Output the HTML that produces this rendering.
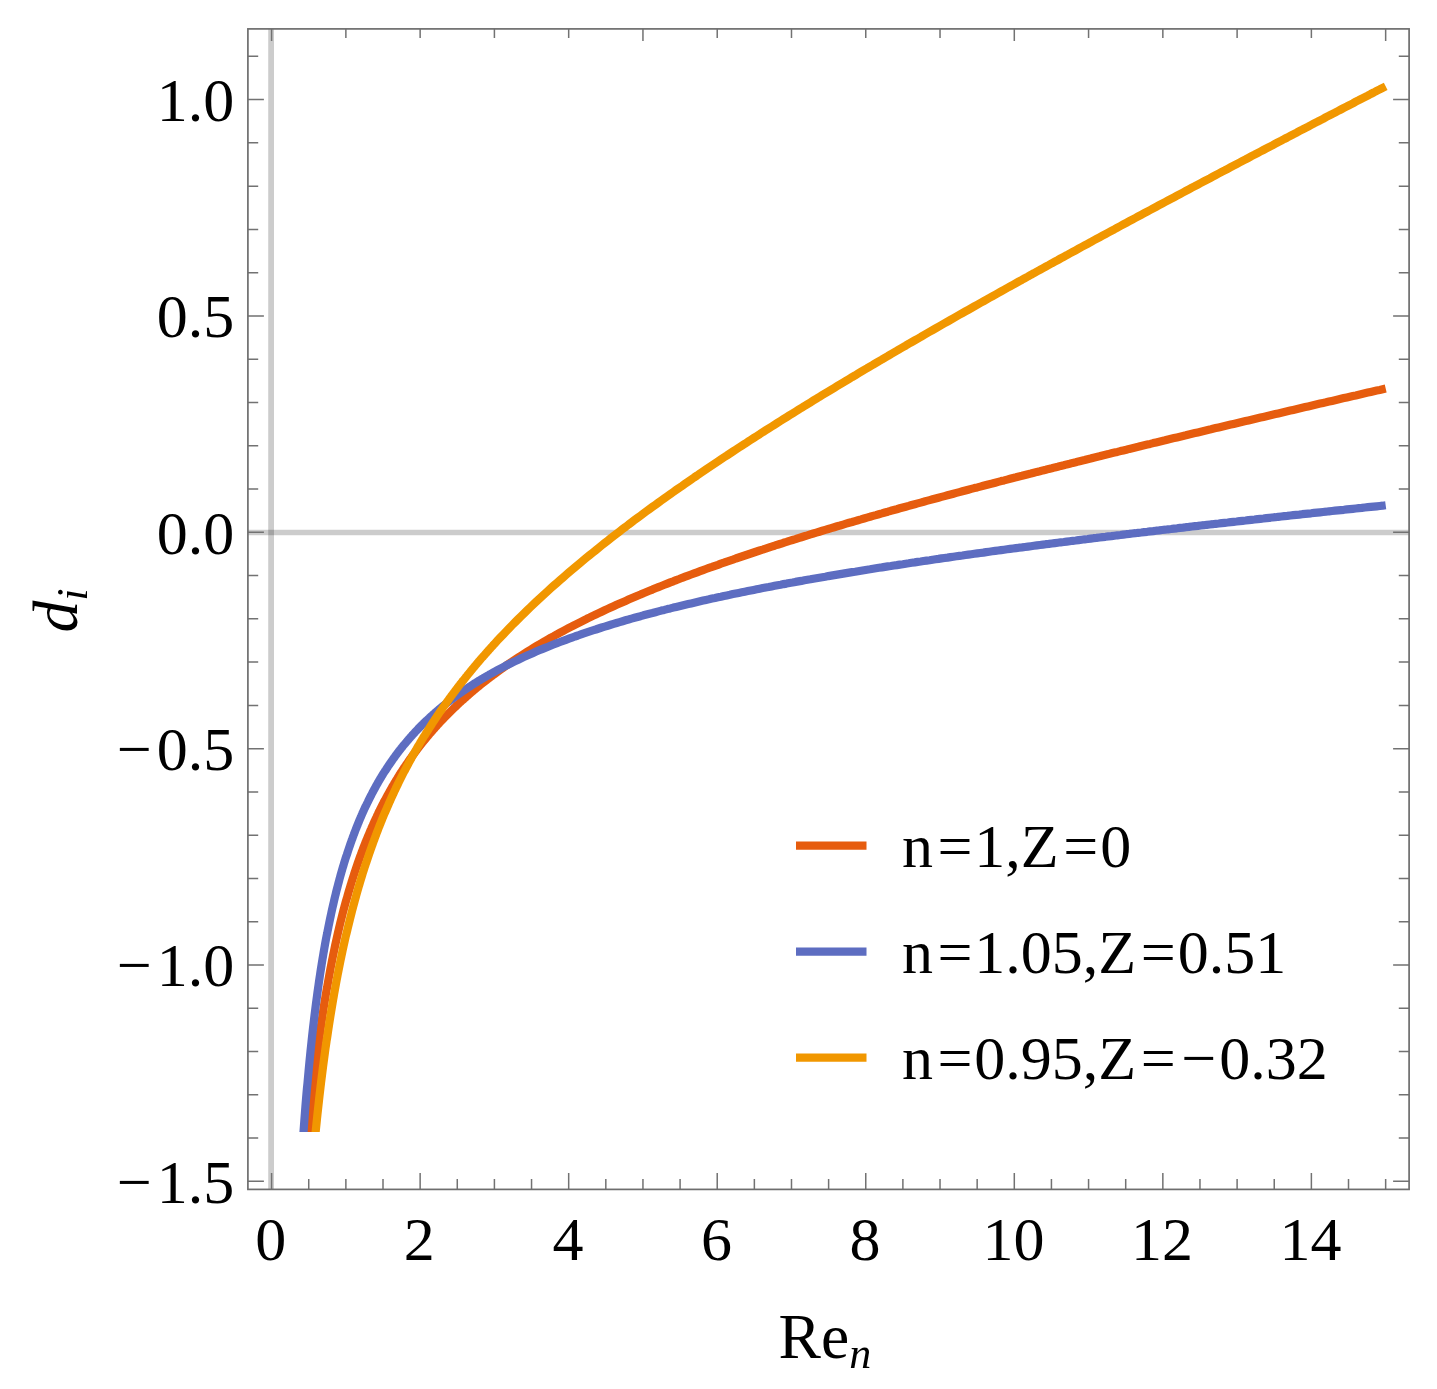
<!DOCTYPE html>
<html><head><meta charset="utf-8"><title>plot</title>
<style>html,body{margin:0;padding:0;background:#fff}svg{display:block}text{font-family:"Liberation Serif",serif;fill:#000}</style></head><body>
<svg width="1437" height="1389" viewBox="0 0 1437 1389">
<rect width="1437" height="1389" fill="#fff"/>
<line x1="271.1" y1="28.9" x2="271.1" y2="1189.4" stroke="#000" stroke-opacity="0.2" stroke-width="5.8"/>
<line x1="247.9" y1="532.4" x2="1409.1" y2="532.4" stroke="#000" stroke-opacity="0.2" stroke-width="5.5"/>
<clipPath id="c"><rect x="247.9" y="28.9" width="1161.2" height="1103.1"/></clipPath><g clip-path="url(#c)">
<path d="M306.6,1159.7 L306.9,1155.6 L307.5,1149.5 L308.0,1143.5 L308.5,1137.7 L309.0,1132.0 L309.5,1126.5 L310.0,1121.1 L310.5,1115.7 L311.0,1110.6 L311.5,1105.5 L312.0,1100.5 L312.5,1095.6 L313.0,1090.9 L313.5,1086.2 L314.0,1081.6 L314.5,1077.1 L315.0,1072.7 L315.5,1068.4 L316.0,1064.1 L316.5,1060.0 L317.0,1055.9 L317.5,1051.9 L318.0,1048.0 L318.5,1044.1 L319.0,1040.3 L319.5,1036.6 L320.0,1032.9 L320.5,1029.3 L321.0,1025.8 L321.5,1022.3 L322.0,1018.9 L322.5,1015.5 L323.0,1012.2 L323.5,1008.9 L324.0,1005.7 L324.5,1002.5 L325.0,999.4 L325.5,996.3 L326.0,993.3 L326.5,990.3 L327.1,987.4 L327.6,984.5 L328.1,981.7 L328.6,978.9 L329.1,976.1 L329.6,973.4 L330.1,970.7 L330.6,968.1 L331.1,965.4 L331.6,962.9 L332.1,960.3 L332.6,957.8 L333.1,955.3 L333.6,952.9 L334.1,950.5 L334.6,948.1 L335.1,945.7 L335.6,943.4 L336.1,941.1 L336.6,938.9 L337.1,936.6 L337.6,934.4 L338.1,932.2 L338.6,930.1 L339.1,928.0 L339.6,925.8 L340.1,923.8 L340.6,921.7 L341.1,919.7 L341.6,917.7 L342.1,915.7 L342.6,913.7 L343.1,911.8 L343.6,909.9 L344.1,908.0 L344.6,906.1 L345.1,904.2 L345.6,902.4 L346.1,900.6 L346.7,898.8 L347.2,897.0 L347.7,895.2 L348.2,893.5 L348.7,891.7 L349.2,890.0 L349.7,888.3 L350.2,886.7 L350.7,885.0 L351.2,883.4 L351.7,881.7 L352.2,880.1 L352.7,878.5 L353.2,877.0 L353.7,875.4 L354.2,873.9 L354.7,872.3 L355.2,870.8 L355.7,869.3 L356.2,867.8 L356.7,866.3 L357.2,864.9 L357.7,863.4 L358.2,862.0 L358.7,860.5 L359.2,859.1 L359.7,857.7 L360.2,856.3 L360.7,855.0 L361.2,853.6 L361.7,852.3 L362.2,850.9 L362.7,849.6 L363.2,848.3 L363.7,847.0 L364.2,845.7 L364.7,844.4 L365.2,843.1 L365.7,841.8 L366.3,840.6 L366.8,839.3 L367.3,838.1 L367.8,836.9 L368.3,835.7 L368.8,834.5 L369.3,833.3 L369.8,832.1 L370.3,830.9 L370.8,829.7 L371.3,828.6 L371.8,827.4 L372.3,826.3 L372.8,825.2 L373.3,824.0 L373.8,822.9 L374.3,821.8 L374.8,820.7 L375.3,819.6 L375.8,818.5 L376.3,817.5 L376.8,816.4 L377.3,815.3 L377.8,814.3 L378.3,813.2 L378.8,812.2 L379.3,811.2 L379.8,810.1 L380.3,809.1 L380.8,808.1 L381.3,807.1 L381.8,806.1 L382.3,805.1 L382.8,804.1 L383.3,803.2 L383.8,802.2 L384.3,801.2 L384.8,800.3 L385.4,799.3 L385.9,798.4 L386.4,797.5 L386.9,796.5 L387.4,795.6 L387.9,794.7 L388.4,793.8 L388.9,792.9 L389.4,792.0 L389.9,791.1 L390.4,790.2 L390.9,789.3 L391.4,788.4 L391.9,787.5 L392.4,786.7 L392.9,785.8 L393.4,784.9 L393.9,784.1 L394.4,783.2 L394.9,782.4 L395.4,781.6 L395.9,780.7 L396.4,779.9 L396.9,779.1 L397.4,778.3 L397.9,777.4 L398.4,776.6 L398.9,775.8 L399.4,775.0 L399.9,774.2 L400.4,773.4 L400.9,772.7 L401.4,771.9 L401.9,771.1 L402.4,770.3 L402.9,769.6 L403.4,768.8 L403.9,768.0 L404.4,767.3 L405.0,766.5 L405.5,765.8 L406.0,765.0 L406.5,764.3 L407.0,763.6 L407.5,762.8 L408.0,762.1 L408.5,761.4 L409.0,760.7 L409.5,759.9 L410.0,759.2 L410.5,758.5 L411.0,757.8 L411.5,757.1 L412.0,756.4 L412.5,755.7 L413.0,755.0 L413.5,754.3 L414.0,753.7 L414.5,753.0 L415.0,752.3 L415.5,751.6 L416.0,751.0 L416.5,750.3 L417.0,749.6 L417.5,749.0 L418.0,748.3 L418.5,747.7 L419.0,747.0 L419.5,746.4 L420.0,745.7 L420.5,745.1 L421.0,744.4 L421.5,743.8 L422.0,743.2 L422.5,742.5 L423.0,741.9 L423.5,741.3 L424.0,740.7 L424.6,740.0 L425.1,739.4 L425.6,738.8 L426.1,738.2 L426.6,737.6 L427.1,737.0 L427.6,736.4 L428.1,735.8 L428.6,735.2 L429.1,734.6 L429.6,734.0 L430.1,733.4 L430.6,732.8 L431.1,732.3 L431.6,731.7 L432.1,731.1 L432.6,730.5 L433.1,730.0 L433.6,729.4 L434.1,728.8 L434.6,728.3 L435.1,727.7 L435.6,727.1 L436.1,726.6 L436.6,726.0 L437.1,725.5 L437.6,724.9 L438.1,724.4 L438.6,723.8 L439.1,723.3 L439.6,722.7 L440.1,722.2 L440.6,721.7 L441.1,721.1 L441.6,720.6 L442.1,720.1 L442.6,719.5 L443.1,719.0 L443.6,718.5 L444.2,717.9 L444.7,717.4 L445.2,716.9 L445.7,716.4 L446.2,715.9 L446.7,715.4 L447.2,714.9 L447.7,714.3 L448.2,713.8 L448.7,713.3 L449.2,712.8 L449.7,712.3 L450.2,711.8 L450.7,711.3 L451.2,710.8 L451.7,710.4 L452.2,709.9 L452.7,709.4 L453.2,708.9 L453.7,708.4 L454.2,707.9 L454.7,707.4 L455.2,707.0 L455.7,706.5 L456.2,706.0 L456.7,705.5 L457.2,705.0 L457.7,704.6 L458.2,704.1 L458.7,703.6 L459.2,703.2 L459.7,702.7 L460.2,702.2 L460.7,701.8 L461.2,701.3 L461.7,700.9 L462.2,700.4 L462.7,700.0 L463.3,699.5 L463.8,699.0 L464.3,698.6 L464.8,698.1 L465.3,697.7 L465.8,697.3 L466.3,696.8 L466.8,696.4 L467.3,695.9 L467.8,695.5 L468.3,695.0 L468.8,694.6 L469.3,694.2 L469.8,693.7 L470.3,693.3 L470.8,692.9 L471.3,692.4 L471.8,692.0 L472.3,691.6 L472.8,691.2 L473.3,690.7 L473.8,690.3 L474.3,689.9 L474.8,689.5 L475.3,689.1 L475.8,688.6 L476.3,688.2 L476.8,687.8 L477.3,687.4 L477.8,687.0 L478.3,686.6 L478.8,686.2 L479.3,685.8 L479.8,685.4 L480.3,684.9 L480.8,684.5 L481.3,684.1 L481.8,683.7 L482.3,683.3 L482.9,682.9 L483.4,682.5 L483.9,682.1 L484.4,681.8 L484.9,681.4 L485.4,681.0 L485.9,680.6 L486.4,680.2 L486.9,679.8 L487.4,679.4 L487.9,679.0 L488.4,678.6 L488.9,678.2 L489.4,677.9 L489.9,677.5 L490.4,677.1 L490.9,676.7 L491.4,676.3 L491.9,676.0 L492.4,675.6 L492.9,675.2 L493.4,674.8 L493.9,674.5 L494.4,674.1 L497.4,671.9 L500.4,669.7 L503.4,667.6 L506.3,665.5 L509.3,663.5 L512.3,661.5 L515.3,659.5 L518.3,657.5 L521.2,655.6 L524.2,653.7 L527.2,651.8 L530.2,649.9 L533.2,648.1 L536.1,646.3 L539.1,644.5 L542.1,642.8 L545.1,641.0 L548.1,639.3 L551.0,637.6 L554.0,636.0 L557.0,634.3 L560.0,632.7 L563.0,631.1 L565.9,629.5 L568.9,627.9 L571.9,626.4 L574.9,624.8 L577.9,623.3 L580.9,621.8 L583.8,620.3 L586.8,618.8 L589.8,617.4 L592.8,615.9 L595.8,614.5 L598.7,613.1 L601.7,611.7 L604.7,610.3 L607.7,608.9 L610.7,607.5 L613.6,606.2 L616.6,604.8 L619.6,603.5 L622.6,602.2 L625.6,600.9 L628.5,599.6 L631.5,598.3 L634.5,597.0 L637.5,595.7 L640.5,594.5 L643.4,593.2 L646.4,592.0 L649.4,590.8 L652.4,589.6 L655.4,588.3 L658.4,587.1 L661.3,586.0 L664.3,584.8 L667.3,583.6 L670.3,582.4 L673.3,581.3 L676.2,580.1 L679.2,579.0 L682.2,577.8 L685.2,576.7 L688.2,575.6 L691.1,574.5 L694.1,573.4 L697.1,572.3 L700.1,571.2 L703.1,570.1 L706.0,569.0 L709.0,567.9 L712.0,566.9 L715.0,565.8 L718.0,564.8 L720.9,563.7 L723.9,562.7 L726.9,561.6 L729.9,560.6 L732.9,559.6 L735.8,558.5 L738.8,557.5 L741.8,556.5 L744.8,555.5 L747.8,554.5 L750.8,553.5 L753.7,552.5 L756.7,551.5 L759.7,550.5 L762.7,549.6 L765.7,548.6 L768.6,547.6 L771.6,546.6 L774.6,545.7 L777.6,544.7 L780.6,543.8 L783.5,542.8 L786.5,541.9 L789.5,540.9 L792.5,540.0 L795.5,539.1 L798.4,538.1 L801.4,537.2 L804.4,536.3 L807.4,535.4 L810.4,534.4 L813.3,533.5 L816.3,532.6 L819.3,531.7 L822.3,530.8 L825.3,529.9 L828.3,529.0 L831.2,528.1 L834.2,527.2 L837.2,526.3 L840.2,525.5 L843.2,524.6 L846.1,523.7 L849.1,522.8 L852.1,522.0 L855.1,521.1 L858.1,520.2 L861.0,519.4 L864.0,518.5 L867.0,517.6 L870.0,516.8 L873.0,515.9 L875.9,515.1 L878.9,514.2 L881.9,513.4 L884.9,512.5 L887.9,511.7 L890.8,510.8 L893.8,510.0 L896.8,509.2 L899.8,508.3 L902.8,507.5 L905.8,506.7 L908.7,505.9 L911.7,505.0 L914.7,504.2 L917.7,503.4 L920.7,502.6 L923.6,501.8 L926.6,500.9 L929.6,500.1 L932.6,499.3 L935.6,498.5 L938.5,497.7 L941.5,496.9 L944.5,496.1 L947.5,495.3 L950.5,494.5 L953.4,493.7 L956.4,492.9 L959.4,492.1 L962.4,491.3 L965.4,490.5 L968.3,489.7 L971.3,488.9 L974.3,488.1 L977.3,487.4 L980.3,486.6 L983.3,485.8 L986.2,485.0 L989.2,484.2 L992.2,483.5 L995.2,482.7 L998.2,481.9 L1001.1,481.1 L1004.1,480.4 L1007.1,479.6 L1010.1,478.8 L1013.1,478.0 L1016.0,477.3 L1019.0,476.5 L1022.0,475.8 L1025.0,475.0 L1028.0,474.2 L1030.9,473.5 L1033.9,472.7 L1036.9,471.9 L1039.9,471.2 L1042.9,470.4 L1045.8,469.7 L1048.8,468.9 L1051.8,468.2 L1054.8,467.4 L1057.8,466.7 L1060.7,465.9 L1063.7,465.2 L1066.7,464.4 L1069.7,463.7 L1072.7,462.9 L1075.7,462.2 L1078.6,461.4 L1081.6,460.7 L1084.6,460.0 L1087.6,459.2 L1090.6,458.5 L1093.5,457.7 L1096.5,457.0 L1099.5,456.3 L1102.5,455.5 L1105.5,454.8 L1108.4,454.1 L1111.4,453.3 L1114.4,452.6 L1117.4,451.9 L1120.4,451.1 L1123.3,450.4 L1126.3,449.7 L1129.3,448.9 L1132.3,448.2 L1135.3,447.5 L1138.2,446.8 L1141.2,446.0 L1144.2,445.3 L1147.2,444.6 L1150.2,443.9 L1153.2,443.1 L1156.1,442.4 L1159.1,441.7 L1162.1,441.0 L1165.1,440.3 L1168.1,439.5 L1171.0,438.8 L1174.0,438.1 L1177.0,437.4 L1180.0,436.7 L1183.0,436.0 L1185.9,435.3 L1188.9,434.5 L1191.9,433.8 L1194.9,433.1 L1197.9,432.4 L1200.8,431.7 L1203.8,431.0 L1206.8,430.3 L1209.8,429.6 L1212.8,428.8 L1215.7,428.1 L1218.7,427.4 L1221.7,426.7 L1224.7,426.0 L1227.7,425.3 L1230.7,424.6 L1233.6,423.9 L1236.6,423.2 L1239.6,422.5 L1242.6,421.8 L1245.6,421.1 L1248.5,420.4 L1251.5,419.7 L1254.5,419.0 L1257.5,418.3 L1260.5,417.6 L1263.4,416.9 L1266.4,416.2 L1269.4,415.5 L1272.4,414.8 L1275.4,414.1 L1278.3,413.4 L1281.3,412.7 L1284.3,412.0 L1287.3,411.3 L1290.3,410.6 L1293.2,409.9 L1296.2,409.2 L1299.2,408.5 L1302.2,407.8 L1305.2,407.1 L1308.2,406.4 L1311.1,405.7 L1314.1,405.0 L1317.1,404.3 L1320.1,403.6 L1323.1,402.9 L1326.0,402.3 L1329.0,401.6 L1332.0,400.9 L1335.0,400.2 L1338.0,399.5 L1340.9,398.8 L1343.9,398.1 L1346.9,397.4 L1349.9,396.7 L1352.9,396.0 L1355.8,395.4 L1358.8,394.7 L1361.8,394.0 L1364.8,393.3 L1367.8,392.6 L1370.7,391.9 L1373.7,391.2 L1376.7,390.5 L1379.7,389.9 L1382.7,389.2 L1385.7,388.5" fill="none" stroke="#E65C0E" stroke-width="8.2" stroke-linejoin="round"/>
<path d="M301.6,1159.7 L301.9,1155.4 L302.4,1147.9 L302.9,1140.6 L303.4,1133.5 L303.9,1126.5 L304.4,1119.8 L304.9,1113.3 L305.4,1106.9 L305.9,1100.7 L306.4,1094.7 L306.9,1088.8 L307.5,1083.1 L308.0,1077.5 L308.5,1072.0 L309.0,1066.7 L309.5,1061.5 L310.0,1056.4 L310.5,1051.5 L311.0,1046.7 L311.5,1041.9 L312.0,1037.3 L312.5,1032.8 L313.0,1028.3 L313.5,1024.0 L314.0,1019.8 L314.5,1015.6 L315.0,1011.5 L315.5,1007.5 L316.0,1003.6 L316.5,999.8 L317.0,996.1 L317.5,992.4 L318.0,988.8 L318.5,985.2 L319.0,981.7 L319.5,978.3 L320.0,975.0 L320.5,971.7 L321.0,968.5 L321.5,965.3 L322.0,962.2 L322.5,959.1 L323.0,956.1 L323.5,953.1 L324.0,950.2 L324.5,947.4 L325.0,944.5 L325.5,941.8 L326.0,939.0 L326.5,936.4 L327.1,933.7 L327.6,931.1 L328.1,928.6 L328.6,926.0 L329.1,923.6 L329.6,921.1 L330.1,918.7 L330.6,916.3 L331.1,914.0 L331.6,911.7 L332.1,909.4 L332.6,907.2 L333.1,905.0 L333.6,902.8 L334.1,900.6 L334.6,898.5 L335.1,896.4 L335.6,894.4 L336.1,892.3 L336.6,890.3 L337.1,888.4 L337.6,886.4 L338.1,884.5 L338.6,882.6 L339.1,880.7 L339.6,878.8 L340.1,877.0 L340.6,875.2 L341.1,873.4 L341.6,871.7 L342.1,869.9 L342.6,868.2 L343.1,866.5 L343.6,864.8 L344.1,863.1 L344.6,861.5 L345.1,859.9 L345.6,858.3 L346.1,856.7 L346.7,855.1 L347.2,853.6 L347.7,852.0 L348.2,850.5 L348.7,849.0 L349.2,847.5 L349.7,846.1 L350.2,844.6 L350.7,843.2 L351.2,841.8 L351.7,840.3 L352.2,839.0 L352.7,837.6 L353.2,836.2 L353.7,834.9 L354.2,833.5 L354.7,832.2 L355.2,830.9 L355.7,829.6 L356.2,828.3 L356.7,827.1 L357.2,825.8 L357.7,824.6 L358.2,823.3 L358.7,822.1 L359.2,820.9 L359.7,819.7 L360.2,818.5 L360.7,817.3 L361.2,816.2 L361.7,815.0 L362.2,813.9 L362.7,812.7 L363.2,811.6 L363.7,810.5 L364.2,809.4 L364.7,808.3 L365.2,807.2 L365.7,806.2 L366.3,805.1 L366.8,804.0 L367.3,803.0 L367.8,802.0 L368.3,800.9 L368.8,799.9 L369.3,798.9 L369.8,797.9 L370.3,796.9 L370.8,795.9 L371.3,795.0 L371.8,794.0 L372.3,793.0 L372.8,792.1 L373.3,791.1 L373.8,790.2 L374.3,789.3 L374.8,788.3 L375.3,787.4 L375.8,786.5 L376.3,785.6 L376.8,784.7 L377.3,783.8 L377.8,783.0 L378.3,782.1 L378.8,781.2 L379.3,780.4 L379.8,779.5 L380.3,778.7 L380.8,777.8 L381.3,777.0 L381.8,776.2 L382.3,775.4 L382.8,774.5 L383.3,773.7 L383.8,772.9 L384.3,772.1 L384.8,771.3 L385.4,770.5 L385.9,769.8 L386.4,769.0 L386.9,768.2 L387.4,767.5 L387.9,766.7 L388.4,765.9 L388.9,765.2 L389.4,764.5 L389.9,763.7 L390.4,763.0 L390.9,762.3 L391.4,761.5 L391.9,760.8 L392.4,760.1 L392.9,759.4 L393.4,758.7 L393.9,758.0 L394.4,757.3 L394.9,756.6 L395.4,755.9 L395.9,755.2 L396.4,754.6 L396.9,753.9 L397.4,753.2 L397.9,752.6 L398.4,751.9 L398.9,751.2 L399.4,750.6 L399.9,749.9 L400.4,749.3 L400.9,748.7 L401.4,748.0 L401.9,747.4 L402.4,746.8 L402.9,746.1 L403.4,745.5 L403.9,744.9 L404.4,744.3 L405.0,743.7 L405.5,743.1 L406.0,742.5 L406.5,741.9 L407.0,741.3 L407.5,740.7 L408.0,740.1 L408.5,739.5 L409.0,739.0 L409.5,738.4 L410.0,737.8 L410.5,737.2 L411.0,736.7 L411.5,736.1 L412.0,735.5 L412.5,735.0 L413.0,734.4 L413.5,733.9 L414.0,733.3 L414.5,732.8 L415.0,732.2 L415.5,731.7 L416.0,731.2 L416.5,730.6 L417.0,730.1 L417.5,729.6 L418.0,729.0 L418.5,728.5 L419.0,728.0 L419.5,727.5 L420.0,727.0 L420.5,726.5 L421.0,726.0 L421.5,725.5 L422.0,724.9 L422.5,724.4 L423.0,724.0 L423.5,723.5 L424.0,723.0 L424.6,722.5 L425.1,722.0 L425.6,721.5 L426.1,721.0 L426.6,720.5 L427.1,720.1 L427.6,719.6 L428.1,719.1 L428.6,718.6 L429.1,718.2 L429.6,717.7 L430.1,717.2 L430.6,716.8 L431.1,716.3 L431.6,715.9 L432.1,715.4 L432.6,715.0 L433.1,714.5 L433.6,714.1 L434.1,713.6 L434.6,713.2 L435.1,712.7 L435.6,712.3 L436.1,711.9 L436.6,711.4 L437.1,711.0 L437.6,710.6 L438.1,710.1 L438.6,709.7 L439.1,709.3 L439.6,708.9 L440.1,708.4 L440.6,708.0 L441.1,707.6 L441.6,707.2 L442.1,706.8 L442.6,706.4 L443.1,705.9 L443.6,705.5 L444.2,705.1 L444.7,704.7 L445.2,704.3 L445.7,703.9 L446.2,703.5 L446.7,703.1 L447.2,702.7 L447.7,702.3 L448.2,701.9 L448.7,701.6 L449.2,701.2 L449.7,700.8 L450.2,700.4 L450.7,700.0 L451.2,699.6 L451.7,699.2 L452.2,698.9 L452.7,698.5 L453.2,698.1 L453.7,697.7 L454.2,697.4 L454.7,697.0 L455.2,696.6 L455.7,696.3 L456.2,695.9 L456.7,695.5 L457.2,695.2 L457.7,694.8 L458.2,694.4 L458.7,694.1 L459.2,693.7 L459.7,693.4 L460.2,693.0 L460.7,692.7 L461.2,692.3 L461.7,692.0 L462.2,691.6 L462.7,691.3 L463.3,690.9 L463.8,690.6 L464.3,690.2 L464.8,689.9 L465.3,689.6 L465.8,689.2 L466.3,688.9 L466.8,688.5 L467.3,688.2 L467.8,687.9 L468.3,687.5 L468.8,687.2 L469.3,686.9 L469.8,686.5 L470.3,686.2 L470.8,685.9 L471.3,685.6 L471.8,685.2 L472.3,684.9 L472.8,684.6 L473.3,684.3 L473.8,684.0 L474.3,683.6 L474.8,683.3 L475.3,683.0 L475.8,682.7 L476.3,682.4 L476.8,682.1 L477.3,681.8 L477.8,681.4 L478.3,681.1 L478.8,680.8 L479.3,680.5 L479.8,680.2 L480.3,679.9 L480.8,679.6 L481.3,679.3 L481.8,679.0 L482.3,678.7 L482.9,678.4 L483.4,678.1 L483.9,677.8 L484.4,677.5 L484.9,677.2 L485.4,676.9 L485.9,676.6 L486.4,676.3 L486.9,676.1 L487.4,675.8 L487.9,675.5 L488.4,675.2 L488.9,674.9 L489.4,674.6 L489.9,674.3 L490.4,674.0 L490.9,673.8 L491.4,673.5 L491.9,673.2 L492.4,672.9 L492.9,672.6 L493.4,672.4 L493.9,672.1 L494.4,671.8 L497.4,670.2 L500.4,668.6 L503.4,667.0 L506.3,665.5 L509.3,664.0 L512.3,662.5 L515.3,661.1 L518.3,659.7 L521.2,658.3 L524.2,656.9 L527.2,655.5 L530.2,654.2 L533.2,652.9 L536.1,651.6 L539.1,650.3 L542.1,649.1 L545.1,647.9 L548.1,646.7 L551.0,645.5 L554.0,644.3 L557.0,643.1 L560.0,642.0 L563.0,640.9 L565.9,639.8 L568.9,638.7 L571.9,637.6 L574.9,636.5 L577.9,635.5 L580.9,634.4 L583.8,633.4 L586.8,632.4 L589.8,631.4 L592.8,630.4 L595.8,629.5 L598.7,628.5 L601.7,627.5 L604.7,626.6 L607.7,625.7 L610.7,624.8 L613.6,623.9 L616.6,623.0 L619.6,622.1 L622.6,621.2 L625.6,620.3 L628.5,619.5 L631.5,618.6 L634.5,617.8 L637.5,617.0 L640.5,616.2 L643.4,615.3 L646.4,614.5 L649.4,613.7 L652.4,613.0 L655.4,612.2 L658.4,611.4 L661.3,610.6 L664.3,609.9 L667.3,609.1 L670.3,608.4 L673.3,607.6 L676.2,606.9 L679.2,606.2 L682.2,605.5 L685.2,604.8 L688.2,604.1 L691.1,603.4 L694.1,602.7 L697.1,602.0 L700.1,601.3 L703.1,600.6 L706.0,599.9 L709.0,599.3 L712.0,598.6 L715.0,598.0 L718.0,597.3 L720.9,596.7 L723.9,596.0 L726.9,595.4 L729.9,594.8 L732.9,594.1 L735.8,593.5 L738.8,592.9 L741.8,592.3 L744.8,591.7 L747.8,591.1 L750.8,590.5 L753.7,589.9 L756.7,589.3 L759.7,588.7 L762.7,588.1 L765.7,587.5 L768.6,587.0 L771.6,586.4 L774.6,585.8 L777.6,585.2 L780.6,584.7 L783.5,584.1 L786.5,583.6 L789.5,583.0 L792.5,582.5 L795.5,581.9 L798.4,581.4 L801.4,580.9 L804.4,580.3 L807.4,579.8 L810.4,579.3 L813.3,578.7 L816.3,578.2 L819.3,577.7 L822.3,577.2 L825.3,576.7 L828.3,576.1 L831.2,575.6 L834.2,575.1 L837.2,574.6 L840.2,574.1 L843.2,573.6 L846.1,573.1 L849.1,572.6 L852.1,572.1 L855.1,571.7 L858.1,571.2 L861.0,570.7 L864.0,570.2 L867.0,569.7 L870.0,569.3 L873.0,568.8 L875.9,568.3 L878.9,567.8 L881.9,567.4 L884.9,566.9 L887.9,566.4 L890.8,566.0 L893.8,565.5 L896.8,565.1 L899.8,564.6 L902.8,564.2 L905.8,563.7 L908.7,563.3 L911.7,562.8 L914.7,562.4 L917.7,561.9 L920.7,561.5 L923.6,561.0 L926.6,560.6 L929.6,560.2 L932.6,559.7 L935.6,559.3 L938.5,558.9 L941.5,558.4 L944.5,558.0 L947.5,557.6 L950.5,557.1 L953.4,556.7 L956.4,556.3 L959.4,555.9 L962.4,555.5 L965.4,555.0 L968.3,554.6 L971.3,554.2 L974.3,553.8 L977.3,553.4 L980.3,553.0 L983.3,552.6 L986.2,552.1 L989.2,551.7 L992.2,551.3 L995.2,550.9 L998.2,550.5 L1001.1,550.1 L1004.1,549.7 L1007.1,549.3 L1010.1,548.9 L1013.1,548.5 L1016.0,548.1 L1019.0,547.7 L1022.0,547.4 L1025.0,547.0 L1028.0,546.6 L1030.9,546.2 L1033.9,545.8 L1036.9,545.4 L1039.9,545.0 L1042.9,544.6 L1045.8,544.2 L1048.8,543.9 L1051.8,543.5 L1054.8,543.1 L1057.8,542.7 L1060.7,542.3 L1063.7,542.0 L1066.7,541.6 L1069.7,541.2 L1072.7,540.8 L1075.7,540.5 L1078.6,540.1 L1081.6,539.7 L1084.6,539.3 L1087.6,539.0 L1090.6,538.6 L1093.5,538.2 L1096.5,537.9 L1099.5,537.5 L1102.5,537.1 L1105.5,536.8 L1108.4,536.4 L1111.4,536.1 L1114.4,535.7 L1117.4,535.3 L1120.4,535.0 L1123.3,534.6 L1126.3,534.2 L1129.3,533.9 L1132.3,533.5 L1135.3,533.2 L1138.2,532.8 L1141.2,532.5 L1144.2,532.1 L1147.2,531.8 L1150.2,531.4 L1153.2,531.1 L1156.1,530.7 L1159.1,530.4 L1162.1,530.0 L1165.1,529.7 L1168.1,529.3 L1171.0,529.0 L1174.0,528.6 L1177.0,528.3 L1180.0,527.9 L1183.0,527.6 L1185.9,527.2 L1188.9,526.9 L1191.9,526.5 L1194.9,526.2 L1197.9,525.9 L1200.8,525.5 L1203.8,525.2 L1206.8,524.8 L1209.8,524.5 L1212.8,524.2 L1215.7,523.8 L1218.7,523.5 L1221.7,523.1 L1224.7,522.8 L1227.7,522.5 L1230.7,522.1 L1233.6,521.8 L1236.6,521.5 L1239.6,521.1 L1242.6,520.8 L1245.6,520.5 L1248.5,520.1 L1251.5,519.8 L1254.5,519.5 L1257.5,519.1 L1260.5,518.8 L1263.4,518.5 L1266.4,518.1 L1269.4,517.8 L1272.4,517.5 L1275.4,517.2 L1278.3,516.8 L1281.3,516.5 L1284.3,516.2 L1287.3,515.9 L1290.3,515.5 L1293.2,515.2 L1296.2,514.9 L1299.2,514.6 L1302.2,514.2 L1305.2,513.9 L1308.2,513.6 L1311.1,513.3 L1314.1,512.9 L1317.1,512.6 L1320.1,512.3 L1323.1,512.0 L1326.0,511.7 L1329.0,511.3 L1332.0,511.0 L1335.0,510.7 L1338.0,510.4 L1340.9,510.1 L1343.9,509.8 L1346.9,509.4 L1349.9,509.1 L1352.9,508.8 L1355.8,508.5 L1358.8,508.2 L1361.8,507.9 L1364.8,507.5 L1367.8,507.2 L1370.7,506.9 L1373.7,506.6 L1376.7,506.3 L1379.7,506.0 L1382.7,505.7 L1385.7,505.3" fill="none" stroke="#5D6DC1" stroke-width="8.2" stroke-linejoin="round"/>
<path d="M313.0,1159.7 L313.5,1154.4 L314.0,1149.0 L314.5,1143.7 L315.0,1138.5 L315.5,1133.4 L316.0,1128.4 L316.5,1123.5 L317.0,1118.6 L317.5,1113.9 L318.0,1109.3 L318.5,1104.7 L319.0,1100.2 L319.5,1095.8 L320.0,1091.5 L320.5,1087.2 L321.0,1083.1 L321.5,1078.9 L322.0,1074.9 L322.5,1070.9 L323.0,1067.0 L323.5,1063.2 L324.0,1059.4 L324.5,1055.6 L325.0,1052.0 L325.5,1048.3 L326.0,1044.8 L326.5,1041.3 L327.1,1037.8 L327.6,1034.4 L328.1,1031.0 L328.6,1027.7 L329.1,1024.4 L329.6,1021.2 L330.1,1018.0 L330.6,1014.9 L331.1,1011.8 L331.6,1008.8 L332.1,1005.8 L332.6,1002.8 L333.1,999.9 L333.6,997.0 L334.1,994.1 L334.6,991.3 L335.1,988.5 L335.6,985.7 L336.1,983.0 L336.6,980.3 L337.1,977.7 L337.6,975.1 L338.1,972.5 L338.6,969.9 L339.1,967.4 L339.6,964.9 L340.1,962.4 L340.6,960.0 L341.1,957.6 L341.6,955.2 L342.1,952.8 L342.6,950.5 L343.1,948.1 L343.6,945.9 L344.1,943.6 L344.6,941.3 L345.1,939.1 L345.6,936.9 L346.1,934.8 L346.7,932.6 L347.2,930.5 L347.7,928.4 L348.2,926.3 L348.7,924.2 L349.2,922.2 L349.7,920.2 L350.2,918.1 L350.7,916.2 L351.2,914.2 L351.7,912.2 L352.2,910.3 L352.7,908.4 L353.2,906.5 L353.7,904.6 L354.2,902.8 L354.7,900.9 L355.2,899.1 L355.7,897.3 L356.2,895.5 L356.7,893.7 L357.2,891.9 L357.7,890.2 L358.2,888.4 L358.7,886.7 L359.2,885.0 L359.7,883.3 L360.2,881.6 L360.7,880.0 L361.2,878.3 L361.7,876.7 L362.2,875.0 L362.7,873.4 L363.2,871.8 L363.7,870.2 L364.2,868.7 L364.7,867.1 L365.2,865.6 L365.7,864.0 L366.3,862.5 L366.8,861.0 L367.3,859.5 L367.8,858.0 L368.3,856.5 L368.8,855.0 L369.3,853.5 L369.8,852.1 L370.3,850.7 L370.8,849.2 L371.3,847.8 L371.8,846.4 L372.3,845.0 L372.8,843.6 L373.3,842.2 L373.8,840.9 L374.3,839.5 L374.8,838.1 L375.3,836.8 L375.8,835.5 L376.3,834.1 L376.8,832.8 L377.3,831.5 L377.8,830.2 L378.3,828.9 L378.8,827.6 L379.3,826.3 L379.8,825.1 L380.3,823.8 L380.8,822.6 L381.3,821.3 L381.8,820.1 L382.3,818.9 L382.8,817.6 L383.3,816.4 L383.8,815.2 L384.3,814.0 L384.8,812.8 L385.4,811.6 L385.9,810.5 L386.4,809.3 L386.9,808.1 L387.4,807.0 L387.9,805.8 L388.4,804.7 L388.9,803.5 L389.4,802.4 L389.9,801.3 L390.4,800.1 L390.9,799.0 L391.4,797.9 L391.9,796.8 L392.4,795.7 L392.9,794.6 L393.4,793.6 L393.9,792.5 L394.4,791.4 L394.9,790.3 L395.4,789.3 L395.9,788.2 L396.4,787.2 L396.9,786.1 L397.4,785.1 L397.9,784.1 L398.4,783.0 L398.9,782.0 L399.4,781.0 L399.9,780.0 L400.4,779.0 L400.9,778.0 L401.4,777.0 L401.9,776.0 L402.4,775.0 L402.9,774.0 L403.4,773.0 L403.9,772.0 L404.4,771.1 L405.0,770.1 L405.5,769.1 L406.0,768.2 L406.5,767.2 L407.0,766.3 L407.5,765.3 L408.0,764.4 L408.5,763.5 L409.0,762.5 L409.5,761.6 L410.0,760.7 L410.5,759.8 L411.0,758.9 L411.5,758.0 L412.0,757.0 L412.5,756.1 L413.0,755.2 L413.5,754.4 L414.0,753.5 L414.5,752.6 L415.0,751.7 L415.5,750.8 L416.0,749.9 L416.5,749.1 L417.0,748.2 L417.5,747.3 L418.0,746.5 L418.5,745.6 L419.0,744.8 L419.5,743.9 L420.0,743.1 L420.5,742.2 L421.0,741.4 L421.5,740.6 L422.0,739.7 L422.5,738.9 L423.0,738.1 L423.5,737.2 L424.0,736.4 L424.6,735.6 L425.1,734.8 L425.6,734.0 L426.1,733.2 L426.6,732.4 L427.1,731.6 L427.6,730.8 L428.1,730.0 L428.6,729.2 L429.1,728.4 L429.6,727.6 L430.1,726.8 L430.6,726.0 L431.1,725.3 L431.6,724.5 L432.1,723.7 L432.6,722.9 L433.1,722.2 L433.6,721.4 L434.1,720.6 L434.6,719.9 L435.1,719.1 L435.6,718.4 L436.1,717.6 L436.6,716.9 L437.1,716.1 L437.6,715.4 L438.1,714.6 L438.6,713.9 L439.1,713.2 L439.6,712.4 L440.1,711.7 L440.6,711.0 L441.1,710.2 L441.6,709.5 L442.1,708.8 L442.6,708.1 L443.1,707.4 L443.6,706.6 L444.2,705.9 L444.7,705.2 L445.2,704.5 L445.7,703.8 L446.2,703.1 L446.7,702.4 L447.2,701.7 L447.7,701.0 L448.2,700.3 L448.7,699.6 L449.2,698.9 L449.7,698.2 L450.2,697.6 L450.7,696.9 L451.2,696.2 L451.7,695.5 L452.2,694.8 L452.7,694.2 L453.2,693.5 L453.7,692.8 L454.2,692.1 L454.7,691.5 L455.2,690.8 L455.7,690.1 L456.2,689.5 L456.7,688.8 L457.2,688.2 L457.7,687.5 L458.2,686.8 L458.7,686.2 L459.2,685.5 L459.7,684.9 L460.2,684.2 L460.7,683.6 L461.2,683.0 L461.7,682.3 L462.2,681.7 L462.7,681.0 L463.3,680.4 L463.8,679.8 L464.3,679.1 L464.8,678.5 L465.3,677.9 L465.8,677.2 L466.3,676.6 L466.8,676.0 L467.3,675.4 L467.8,674.7 L468.3,674.1 L468.8,673.5 L469.3,672.9 L469.8,672.3 L470.3,671.7 L470.8,671.0 L471.3,670.4 L471.8,669.8 L472.3,669.2 L472.8,668.6 L473.3,668.0 L473.8,667.4 L474.3,666.8 L474.8,666.2 L475.3,665.6 L475.8,665.0 L476.3,664.4 L476.8,663.8 L477.3,663.2 L477.8,662.6 L478.3,662.0 L478.8,661.5 L479.3,660.9 L479.8,660.3 L480.3,659.7 L480.8,659.1 L481.3,658.5 L481.8,657.9 L482.3,657.4 L482.9,656.8 L483.4,656.2 L483.9,655.6 L484.4,655.1 L484.9,654.5 L485.4,653.9 L485.9,653.4 L486.4,652.8 L486.9,652.2 L487.4,651.7 L487.9,651.1 L488.4,650.5 L488.9,650.0 L489.4,649.4 L489.9,648.8 L490.4,648.3 L490.9,647.7 L491.4,647.2 L491.9,646.6 L492.4,646.1 L492.9,645.5 L493.4,645.0 L493.9,644.4 L494.4,643.9 L497.4,640.6 L500.4,637.4 L503.4,634.3 L506.3,631.2 L509.3,628.1 L512.3,625.0 L515.3,622.0 L518.3,619.0 L521.2,616.1 L524.2,613.2 L527.2,610.3 L530.2,607.4 L533.2,604.6 L536.1,601.8 L539.1,599.0 L542.1,596.2 L545.1,593.5 L548.1,590.8 L551.0,588.1 L554.0,585.4 L557.0,582.8 L560.0,580.2 L563.0,577.6 L565.9,575.0 L568.9,572.4 L571.9,569.9 L574.9,567.3 L577.9,564.8 L580.9,562.3 L583.8,559.9 L586.8,557.4 L589.8,555.0 L592.8,552.6 L595.8,550.2 L598.7,547.8 L601.7,545.4 L604.7,543.0 L607.7,540.7 L610.7,538.3 L613.6,536.0 L616.6,533.7 L619.6,531.4 L622.6,529.1 L625.6,526.9 L628.5,524.6 L631.5,522.4 L634.5,520.1 L637.5,517.9 L640.5,515.7 L643.4,513.5 L646.4,511.3 L649.4,509.1 L652.4,506.9 L655.4,504.8 L658.4,502.6 L661.3,500.5 L664.3,498.4 L667.3,496.2 L670.3,494.1 L673.3,492.0 L676.2,489.9 L679.2,487.8 L682.2,485.8 L685.2,483.7 L688.2,481.6 L691.1,479.6 L694.1,477.5 L697.1,475.5 L700.1,473.4 L703.1,471.4 L706.0,469.4 L709.0,467.4 L712.0,465.4 L715.0,463.4 L718.0,461.4 L720.9,459.4 L723.9,457.4 L726.9,455.5 L729.9,453.5 L732.9,451.5 L735.8,449.6 L738.8,447.6 L741.8,445.7 L744.8,443.8 L747.8,441.8 L750.8,439.9 L753.7,438.0 L756.7,436.1 L759.7,434.2 L762.7,432.2 L765.7,430.3 L768.6,428.5 L771.6,426.6 L774.6,424.7 L777.6,422.8 L780.6,420.9 L783.5,419.1 L786.5,417.2 L789.5,415.3 L792.5,413.5 L795.5,411.6 L798.4,409.8 L801.4,407.9 L804.4,406.1 L807.4,404.2 L810.4,402.4 L813.3,400.6 L816.3,398.8 L819.3,396.9 L822.3,395.1 L825.3,393.3 L828.3,391.5 L831.2,389.7 L834.2,387.9 L837.2,386.1 L840.2,384.3 L843.2,382.5 L846.1,380.7 L849.1,378.9 L852.1,377.1 L855.1,375.4 L858.1,373.6 L861.0,371.8 L864.0,370.0 L867.0,368.3 L870.0,366.5 L873.0,364.8 L875.9,363.0 L878.9,361.2 L881.9,359.5 L884.9,357.7 L887.9,356.0 L890.8,354.2 L893.8,352.5 L896.8,350.8 L899.8,349.0 L902.8,347.3 L905.8,345.6 L908.7,343.8 L911.7,342.1 L914.7,340.4 L917.7,338.7 L920.7,337.0 L923.6,335.2 L926.6,333.5 L929.6,331.8 L932.6,330.1 L935.6,328.4 L938.5,326.7 L941.5,325.0 L944.5,323.3 L947.5,321.6 L950.5,319.9 L953.4,318.2 L956.4,316.5 L959.4,314.8 L962.4,313.1 L965.4,311.4 L968.3,309.8 L971.3,308.1 L974.3,306.4 L977.3,304.7 L980.3,303.0 L983.3,301.4 L986.2,299.7 L989.2,298.0 L992.2,296.4 L995.2,294.7 L998.2,293.0 L1001.1,291.4 L1004.1,289.7 L1007.1,288.0 L1010.1,286.4 L1013.1,284.7 L1016.0,283.1 L1019.0,281.4 L1022.0,279.8 L1025.0,278.1 L1028.0,276.5 L1030.9,274.8 L1033.9,273.2 L1036.9,271.5 L1039.9,269.9 L1042.9,268.2 L1045.8,266.6 L1048.8,265.0 L1051.8,263.3 L1054.8,261.7 L1057.8,260.1 L1060.7,258.4 L1063.7,256.8 L1066.7,255.2 L1069.7,253.5 L1072.7,251.9 L1075.7,250.3 L1078.6,248.7 L1081.6,247.0 L1084.6,245.4 L1087.6,243.8 L1090.6,242.2 L1093.5,240.5 L1096.5,238.9 L1099.5,237.3 L1102.5,235.7 L1105.5,234.1 L1108.4,232.5 L1111.4,230.9 L1114.4,229.3 L1117.4,227.6 L1120.4,226.0 L1123.3,224.4 L1126.3,222.8 L1129.3,221.2 L1132.3,219.6 L1135.3,218.0 L1138.2,216.4 L1141.2,214.8 L1144.2,213.2 L1147.2,211.6 L1150.2,210.0 L1153.2,208.4 L1156.1,206.8 L1159.1,205.2 L1162.1,203.6 L1165.1,202.0 L1168.1,200.4 L1171.0,198.9 L1174.0,197.3 L1177.0,195.7 L1180.0,194.1 L1183.0,192.5 L1185.9,190.9 L1188.9,189.3 L1191.9,187.7 L1194.9,186.2 L1197.9,184.6 L1200.8,183.0 L1203.8,181.4 L1206.8,179.8 L1209.8,178.3 L1212.8,176.7 L1215.7,175.1 L1218.7,173.5 L1221.7,171.9 L1224.7,170.4 L1227.7,168.8 L1230.7,167.2 L1233.6,165.7 L1236.6,164.1 L1239.6,162.5 L1242.6,160.9 L1245.6,159.4 L1248.5,157.8 L1251.5,156.2 L1254.5,154.7 L1257.5,153.1 L1260.5,151.5 L1263.4,150.0 L1266.4,148.4 L1269.4,146.8 L1272.4,145.3 L1275.4,143.7 L1278.3,142.1 L1281.3,140.6 L1284.3,139.0 L1287.3,137.5 L1290.3,135.9 L1293.2,134.3 L1296.2,132.8 L1299.2,131.2 L1302.2,129.7 L1305.2,128.1 L1308.2,126.6 L1311.1,125.0 L1314.1,123.4 L1317.1,121.9 L1320.1,120.3 L1323.1,118.8 L1326.0,117.2 L1329.0,115.7 L1332.0,114.1 L1335.0,112.6 L1338.0,111.0 L1340.9,109.5 L1343.9,107.9 L1346.9,106.4 L1349.9,104.8 L1352.9,103.3 L1355.8,101.7 L1358.8,100.2 L1361.8,98.6 L1364.8,97.1 L1367.8,95.6 L1370.7,94.0 L1373.7,92.5 L1376.7,90.9 L1379.7,89.4 L1382.7,87.8 L1385.7,86.3" fill="none" stroke="#F19700" stroke-width="8.2" stroke-linejoin="round"/>
</g>
<path d="M271.60,1189.4 v-16.3 M308.74,1189.4 v-10.4 M345.87,1189.4 v-10.4 M383.00,1189.4 v-10.4 M420.14,1189.4 v-16.3 M457.27,1189.4 v-10.4 M494.41,1189.4 v-10.4 M531.55,1189.4 v-10.4 M568.68,1189.4 v-16.3 M605.82,1189.4 v-10.4 M642.95,1189.4 v-10.4 M680.09,1189.4 v-10.4 M717.22,1189.4 v-16.3 M754.36,1189.4 v-10.4 M791.49,1189.4 v-10.4 M828.62,1189.4 v-10.4 M865.76,1189.4 v-16.3 M902.89,1189.4 v-10.4 M940.03,1189.4 v-10.4 M977.16,1189.4 v-10.4 M1014.30,1189.4 v-16.3 M1051.43,1189.4 v-10.4 M1088.57,1189.4 v-10.4 M1125.70,1189.4 v-10.4 M1162.84,1189.4 v-16.3 M1199.97,1189.4 v-10.4 M1237.11,1189.4 v-10.4 M1274.24,1189.4 v-10.4 M1311.38,1189.4 v-16.3 M1348.51,1189.4 v-10.4 M1385.65,1189.4 v-10.4 M271.60,28.9 v12 M345.87,28.9 v9.1 M420.14,28.9 v9.1 M494.41,28.9 v9.1 M568.68,28.9 v9.1 M642.95,28.9 v12 M717.22,28.9 v9.1 M791.49,28.9 v9.1 M865.76,28.9 v9.1 M940.03,28.9 v9.1 M1014.30,28.9 v12 M1088.57,28.9 v9.1 M1162.84,28.9 v9.1 M1237.11,28.9 v9.1 M1311.38,28.9 v9.1 M1385.65,28.9 v12 M247.9,1181.35 h16 M1409.1,1181.35 h-16 M247.9,1138.08 h10.3 M1409.1,1138.08 h-10.3 M247.9,1094.81 h10.3 M1409.1,1094.81 h-10.3 M247.9,1051.54 h10.3 M1409.1,1051.54 h-10.3 M247.9,1008.27 h10.3 M1409.1,1008.27 h-10.3 M247.9,965.00 h16 M1409.1,965.00 h-16 M247.9,921.73 h10.3 M1409.1,921.73 h-10.3 M247.9,878.46 h10.3 M1409.1,878.46 h-10.3 M247.9,835.19 h10.3 M1409.1,835.19 h-10.3 M247.9,791.92 h10.3 M1409.1,791.92 h-10.3 M247.9,748.65 h16 M1409.1,748.65 h-16 M247.9,705.38 h10.3 M1409.1,705.38 h-10.3 M247.9,662.11 h10.3 M1409.1,662.11 h-10.3 M247.9,618.84 h10.3 M1409.1,618.84 h-10.3 M247.9,575.57 h10.3 M1409.1,575.57 h-10.3 M247.9,532.30 h16 M1409.1,532.30 h-16 M247.9,489.03 h10.3 M1409.1,489.03 h-10.3 M247.9,445.76 h10.3 M1409.1,445.76 h-10.3 M247.9,402.49 h10.3 M1409.1,402.49 h-10.3 M247.9,359.22 h10.3 M1409.1,359.22 h-10.3 M247.9,315.95 h16 M1409.1,315.95 h-16 M247.9,272.68 h10.3 M1409.1,272.68 h-10.3 M247.9,229.41 h10.3 M1409.1,229.41 h-10.3 M247.9,186.14 h10.3 M1409.1,186.14 h-10.3 M247.9,142.87 h10.3 M1409.1,142.87 h-10.3 M247.9,99.60 h16 M1409.1,99.60 h-16 M247.9,56.33 h10.3 M1409.1,56.33 h-10.3" stroke="#727272" stroke-width="1.5" fill="none"/>
<rect x="247.9" y="28.9" width="1161.2" height="1160.5" fill="none" stroke="#6e6e6e" stroke-width="1.7"/>
<text x="270.8" y="1260.0" font-size="62" text-anchor="middle">0</text>
<text x="419.3" y="1260.0" font-size="62" text-anchor="middle">2</text>
<text x="567.9" y="1260.0" font-size="62" text-anchor="middle">4</text>
<text x="716.4" y="1260.0" font-size="62" text-anchor="middle">6</text>
<text x="865.0" y="1260.0" font-size="62" text-anchor="middle">8</text>
<text x="1013.5" y="1260.0" font-size="62" text-anchor="middle">10</text>
<text x="1162.0" y="1260.0" font-size="62" text-anchor="middle">12</text>
<text x="1310.6" y="1260.0" font-size="62" text-anchor="middle">14</text>
<text x="234.2" y="1202.5" font-size="62" text-anchor="end">1.5</text>
<text x="134.2" y="1202.5" font-size="62" text-anchor="middle">−</text>
<text x="234.2" y="986.2" font-size="62" text-anchor="end">1.0</text>
<text x="134.2" y="986.2" font-size="62" text-anchor="middle">−</text>
<text x="234.2" y="769.9" font-size="62" text-anchor="end">0.5</text>
<text x="134.2" y="769.9" font-size="62" text-anchor="middle">−</text>
<text x="234.2" y="553.5" font-size="62" text-anchor="end">0.0</text>
<text x="234.2" y="337.1" font-size="62" text-anchor="end">0.5</text>
<text x="234.2" y="120.8" font-size="62" text-anchor="end">1.0</text>
<text x="778.6" y="1357.9" font-size="63.5">Re<tspan font-style="italic" font-size="44" dy="10.1">n</tspan></text>
<text transform="translate(77.4,632.6) rotate(-90)" font-size="63.5" font-style="italic">d<tspan font-size="44" dy="9.1">i</tspan></text>
<line x1="796" y1="845.6" x2="866.5" y2="845.6" stroke="#E65C0E" stroke-width="8.4"/>
<text x="901.9" y="867.2" font-size="62">n<tspan dx="4.5">=</tspan><tspan dx="2">1</tspan>,Z<tspan dx="4.5">=</tspan><tspan dx="2">0</tspan></text>
<line x1="796" y1="951.6" x2="866.5" y2="951.6" stroke="#5D6DC1" stroke-width="8.4"/>
<text x="901.9" y="973.2" font-size="62">n<tspan dx="4.5">=</tspan><tspan dx="2">1</tspan>.05,Z<tspan dx="4.5">=</tspan><tspan dx="2">0</tspan>.51</text>
<line x1="796" y1="1057.6" x2="866.5" y2="1057.6" stroke="#F19700" stroke-width="8.4"/>
<text x="901.9" y="1079.2" font-size="62">n<tspan dx="4.5">=</tspan><tspan dx="2">0</tspan>.95,Z<tspan dx="4.5">=</tspan><tspan dx="5.5">−</tspan><tspan dx="3">0</tspan>.32</text>
</svg></body></html>
